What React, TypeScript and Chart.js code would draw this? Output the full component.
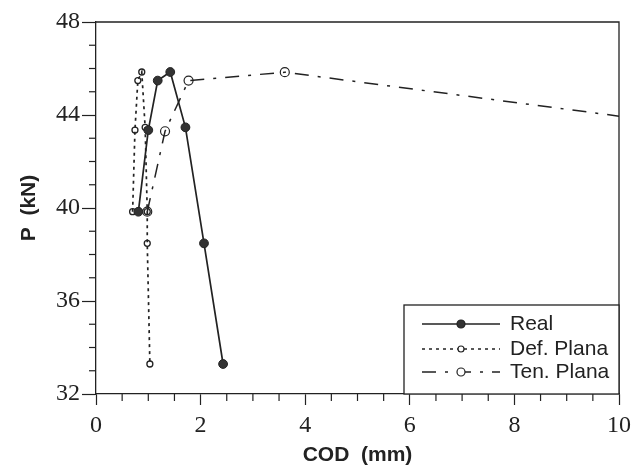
import React, { useEffect, useRef } from "react";
import { Chart, registerables } from "chart.js";

Chart.register(...registerables);

const realCOD = [0.81, 1.0, 1.18, 1.42, 1.71, 2.065, 2.43];
const realP = [39.84, 43.35, 45.48, 45.85, 43.47, 38.48, 33.29];

const defCOD = [0.7, 0.745, 0.8, 0.875, 0.94, 0.98, 0.98, 1.03];
const defP = [39.84, 43.35, 45.48, 45.85, 43.47, 39.84, 38.48, 33.29];

const tenCOD = [0.98, 1.32, 1.77, 3.61, 10.0];
const tenP = [39.84, 43.3, 45.48, 45.84, 43.95];
const tenMarker = [4.5, 4.5, 4.5, 4.5, 0];

const xTicks = [0, 2, 4, 6, 8, 10];
const yTicks = [32, 36, 40, 44, 48];
const xMinorStep = 0.5;
const yMinorStep = 1;

const INK = "#222";

const toPts = (xs: number[], ys: number[]) => xs.map((x, i) => ({ x, y: ys[i] }));

const framePlugin = {
  id: "frame",
  afterDraw(chart: any) {
    const { ctx, chartArea, scales } = chart;
    const { left, right, top, bottom } = chartArea;
    ctx.save();
    ctx.strokeStyle = INK;
    ctx.lineWidth = 1.3;
    ctx.beginPath();
    ctx.moveTo(left, top);
    ctx.lineTo(right, top);
    ctx.lineTo(right, bottom);
    ctx.stroke();
    ctx.lineWidth = 1.2;
    const xs = scales.x;
    for (let v = xs.min; v <= xs.max + 1e-9; v += xMinorStep) {
      if (xTicks.some((t) => Math.abs(t - v) < 1e-6)) continue;
      const px = xs.getPixelForValue(v);
      ctx.beginPath();
      ctx.moveTo(px, bottom);
      ctx.lineTo(px, bottom + 7);
      ctx.stroke();
    }
    const ys = scales.y;
    for (let v = ys.min; v <= ys.max + 1e-9; v += yMinorStep) {
      if (yTicks.some((t) => Math.abs(t - v) < 1e-6)) continue;
      const py = ys.getPixelForValue(v);
      ctx.beginPath();
      ctx.moveTo(left - 7, py);
      ctx.lineTo(left, py);
      ctx.stroke();
    }
    ctx.restore();
  },
};

const legendPlugin = {
  id: "boxLegend",
  afterDraw(chart: any) {
    const { ctx, chartArea } = chart;
    const { right, bottom } = chartArea;
    const bx = right - 215;
    const by = bottom - 89;
    ctx.save();
    ctx.fillStyle = "#fff";
    ctx.fillRect(bx, by, 215, 89);
    ctx.strokeStyle = INK;
    ctx.lineWidth = 1.3;
    ctx.strokeRect(bx, by, 215, 89);
    const rows = [bottom - 70, bottom - 45, bottom - 22];
    chart.data.datasets.forEach((ds: any, i: number) => {
      const y = rows[i];
      const x0 = right - 197;
      const x1 = right - 119;
      const xm = right - 158;
      ctx.strokeStyle = INK;
      ctx.lineWidth = ds.borderWidth;
      ctx.setLineDash(ds.borderDash || []);
      ctx.beginPath();
      ctx.moveTo(x0, y);
      ctx.lineTo(x1, y);
      ctx.stroke();
      ctx.setLineDash([]);
      const r0 = Array.isArray(ds.pointRadius) ? ds.pointRadius[0] : ds.pointRadius;
      const r = Math.min(r0, 4);
      ctx.beginPath();
      ctx.arc(xm, y, r, 0, Math.PI * 2);
      ctx.fillStyle = ds.pointBackgroundColor === "transparent" ? "#fff" : ds.pointBackgroundColor;
      ctx.fill();
      ctx.lineWidth = 1.2;
      ctx.stroke();
      ctx.fillStyle = INK;
      ctx.font = "21px 'Liberation Sans', Arial, sans-serif";
      ctx.textBaseline = "middle";
      ctx.textAlign = "left";
      ctx.fillText(ds.label, right - 109, y);
    });
    ctx.restore();
  },
};

export default function App() {
  const ref = useRef<HTMLCanvasElement | null>(null);
  useEffect(() => {
    if (!ref.current) return;
    const chart = new Chart(ref.current, {
      type: "line",
      data: {
        datasets: [
          {
            label: "Real",
            data: toPts(realCOD, realP),
            borderColor: INK,
            borderWidth: 1.7,
            pointRadius: 4.4,
            pointBackgroundColor: "#333",
            pointBorderColor: INK,
            pointBorderWidth: 1,
            fill: false,
            tension: 0,
          },
          {
            label: "Def. Plana",
            data: toPts(defCOD, defP),
            borderColor: INK,
            borderWidth: 1.7,
            borderDash: [3, 4],
            pointRadius: 3,
            pointBackgroundColor: "transparent",
            pointBorderColor: INK,
            pointBorderWidth: 1.3,
            fill: false,
            tension: 0,
          },
          {
            label: "Ten. Plana",
            data: toPts(tenCOD, tenP),
            borderColor: INK,
            borderWidth: 1.5,
            borderDash: [14, 9, 3, 9],
            pointRadius: tenMarker,
            pointBackgroundColor: "transparent",
            pointBorderColor: INK,
            pointBorderWidth: 1.2,
            fill: false,
            tension: 0,
          },
        ],
      },
      options: {
        animation: false,
        responsive: false,
        layout: { padding: { top: 22, right: 18, left: 0, bottom: 0 } },
        plugins: { legend: { display: false }, tooltip: { enabled: false } },
        scales: {
          x: {
            type: "linear",
            min: 0,
            max: 10,
            afterBuildTicks: (s: any) => {
              s.ticks = xTicks.map((v) => ({ value: v }));
            },
            afterFit: (s: any) => {
              s.height = 76;
            },
            ticks: {
              color: INK,
              padding: 6,
              font: { family: "'Liberation Serif', 'Times New Roman', serif", size: 24 },
              maxRotation: 0,
              callback: (v: any) => String(v),
            },
            grid: { drawOnChartArea: false, tickLength: 11, color: INK, tickWidth: 1.2 },
            border: { display: true, color: INK, width: 1.3 },
            title: {
              display: true,
              text: "COD  (mm)",
              color: INK,
              font: { family: "'Liberation Sans', Arial, sans-serif", size: 21, weight: "bold" },
              padding: { top: 0, bottom: 2 },
            },
          },
          y: {
            type: "linear",
            min: 32,
            max: 48,
            afterBuildTicks: (s: any) => {
              s.ticks = yTicks.map((v) => ({ value: v }));
            },
            afterFit: (s: any) => {
              s.width = 96;
            },
            ticks: {
              color: INK,
              padding: 2,
              font: { family: "'Liberation Serif', 'Times New Roman', serif", size: 24 },
              callback: (v: any) => String(v),
            },
            grid: { drawOnChartArea: false, tickLength: 14, color: INK, tickWidth: 1.2 },
            border: { display: true, color: INK, width: 1.3 },
            title: {
              display: true,
              text: "P  (kN)",
              color: INK,
              font: { family: "'Liberation Sans', Arial, sans-serif", size: 21, weight: "bold" },
              padding: { top: 17, bottom: 0 },
            },
          },
        },
      },
      plugins: [framePlugin, legendPlugin],
    });
    return () => chart.destroy();
  }, []);
  return (
    <div style={{ position: "fixed", left: 0, top: 0, width: 637, height: 470, background: "#fff" }}>
      <canvas ref={ref} width={637} height={470} style={{ display: "block" }} />
    </div>
  );
}
